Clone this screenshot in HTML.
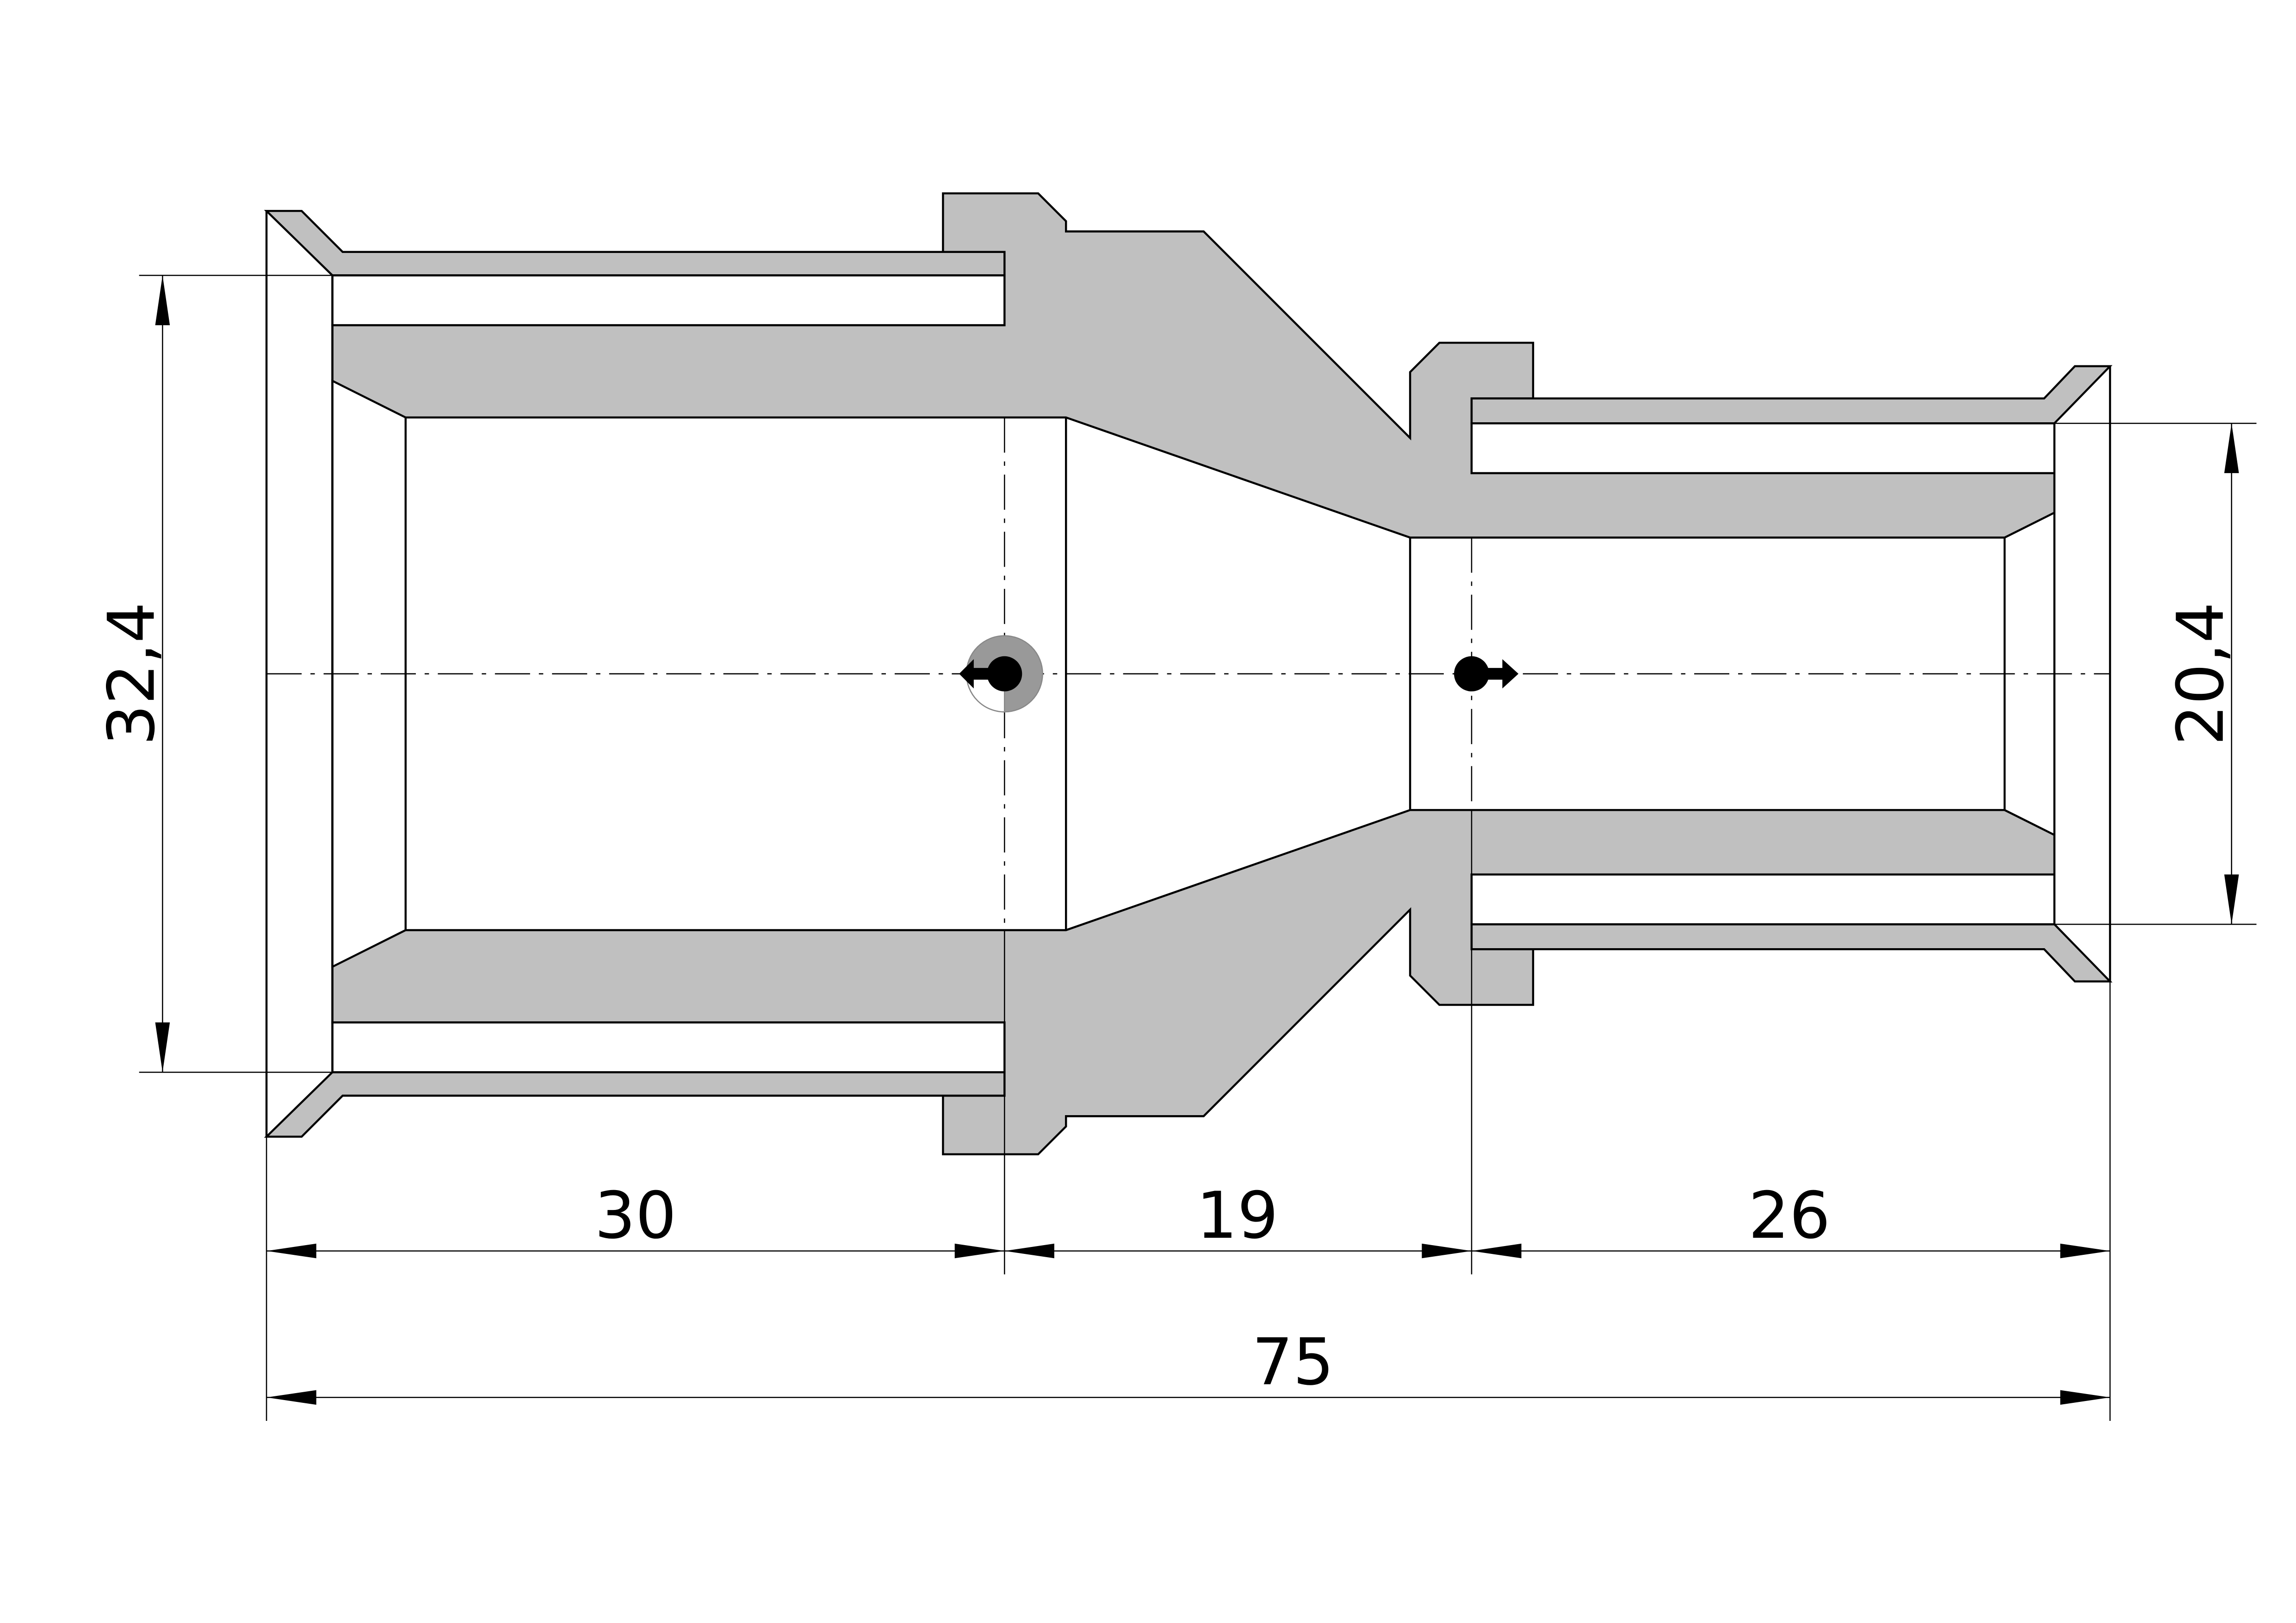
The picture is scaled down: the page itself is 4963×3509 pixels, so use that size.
<!DOCTYPE html>
<html><head><meta charset="utf-8"><style>
html,body{margin:0;padding:0;background:#fff;}
svg{display:block;}
</style></head><body>
<svg width="4963" height="3509" viewBox="0 0 1568 1108" preserveAspectRatio="none" xmlns="http://www.w3.org/2000/svg">
<rect width="1568" height="1108" fill="#fff"/>
<g stroke="#000" stroke-width="1.4" stroke-linejoin="miter">
<path fill="#c0c0c0" d="M644,132 L709,132 L728,151 L728,158 L822,158 L963,299 L963,254 L983,234 L1047,234 L1047,272 L1005,272 L1005,323 L1403,323 L1403,597 L1005,597 L1005,648 L1047,648 L1047,686 L983,686 L963,666 L963,621 L822,762 L728,762 L728,769 L709,788 L644,788 L644,748 L686,748 L686,698 L227,698 L227,222 L686,222 L686,172 L644,172 Z"/>
<path fill="#fff" d="M227,260 L277,285 L728,285 L963,367 L1369,367 L1403,350 L1403,570 L1369,553 L963,553 L728,635 L277,635 L227,660 Z"/>
<line x1="277" y1="285" x2="277" y2="635"/>
<line x1="728" y1="285" x2="728" y2="635"/>
<line x1="963" y1="367" x2="963" y2="553"/>
<line x1="1369" y1="367" x2="1369" y2="553"/>
<path fill="#c0c0c0" d="M182,144 L206,144 L234,172 L686,172 L686,188 L227,188 Z"/>
<path fill="#c0c0c0" d="M182,776 L206,776 L234,748 L686,748 L686,732 L227,732 Z"/>
<rect x="227" y="188" width="459" height="34" fill="#fff"/>
<rect x="227" y="698" width="459" height="34" fill="#fff"/>
<path fill="none" d="M182,144 L182,776 M227,188 L227,732"/>
<path fill="#c0c0c0" d="M1441,250 L1417,250 L1396,272 L1005,272 L1005,289 L1403,289 Z"/>
<path fill="#c0c0c0" d="M1441,670 L1417,670 L1396,648 L1005,648 L1005,631 L1403,631 Z"/>
<rect x="1005" y="289" width="398" height="34" fill="#fff"/>
<rect x="1005" y="597" width="398" height="34" fill="#fff"/>
<path fill="none" d="M1441,250 L1441,670 M1403,289 L1403,631"/>
</g>
<g stroke="#000" stroke-width="0.8" fill="none" stroke-dasharray="24,6,3,6">
<line x1="182" y1="460" x2="1441" y2="460"/>
<line x1="686" y1="285" x2="686" y2="635"/>
<line x1="1005" y1="367" x2="1005" y2="553"/>
</g>
<circle cx="686" cy="460" r="26" fill="#999" stroke="#888" stroke-width="0.8"/>
<path d="M660,460 A26,26 0 0 0 686,486 L686,460 Z" fill="#fff" stroke="#888" stroke-width="0.8"/>
<circle cx="686" cy="460" r="12" fill="#000"/>
<path d="M655,460 L665,450 L665,470 Z M665,456 L676,456 L676,464 L665,464 Z" fill="#000"/>
<circle cx="1005" cy="460" r="12" fill="#000"/>
<path d="M1037,460 L1026,450 L1026,470 Z M1015,456 L1026,456 L1026,464 L1015,464 Z" fill="#000"/>
<g stroke="#000" stroke-width="0.8">
<line x1="182" y1="776" x2="182" y2="970"/>
<line x1="1441" y1="670" x2="1441" y2="970"/>
<line x1="686" y1="635" x2="686" y2="870"/>
<line x1="1005" y1="553" x2="1005" y2="870"/>
<line x1="95" y1="188" x2="227" y2="188"/>
<line x1="95" y1="732" x2="227" y2="732"/>
<line x1="1403" y1="289" x2="1541" y2="289"/>
<line x1="1403" y1="631" x2="1541" y2="631"/>
<line x1="182" y1="854" x2="1441" y2="854"/>
<line x1="182" y1="954" x2="1441" y2="954"/>
<line x1="111" y1="188" x2="111" y2="732"/>
<line x1="1524" y1="289" x2="1524" y2="631"/>
</g>
<g fill="#000">
<path d="M182,854 l34,-5 v10 Z M686,854 l-34,-5 v10 Z M686,854 l34,-5 v10 Z M1005,854 l-34,-5 v10 Z M1005,854 l34,-5 v10 Z M1441,854 l-34,-5 v10 Z"/>
<path d="M182,954 l34,-5 v10 Z M1441,954 l-34,-5 v10 Z"/>
<path d="M111,188 l-5,34 h10 Z M111,732 l-5,-34 h10 Z"/>
<path d="M1524,289 l-5,34 h10 Z M1524,631 l-5,-34 h10 Z"/>
</g>
<g font-family="DejaVu Sans, Liberation Sans, sans-serif" font-size="44" fill="#000" text-anchor="middle">
<text x="434" y="845">30</text>
<text x="845" y="845">19</text>
<text x="1222" y="845">26</text>
<text x="883" y="945">75</text>
<text transform="translate(105,460) rotate(-90)">32,4</text>
<text transform="translate(1518,460) rotate(-90)">20,4</text>
</g>
</svg>
</body></html>
